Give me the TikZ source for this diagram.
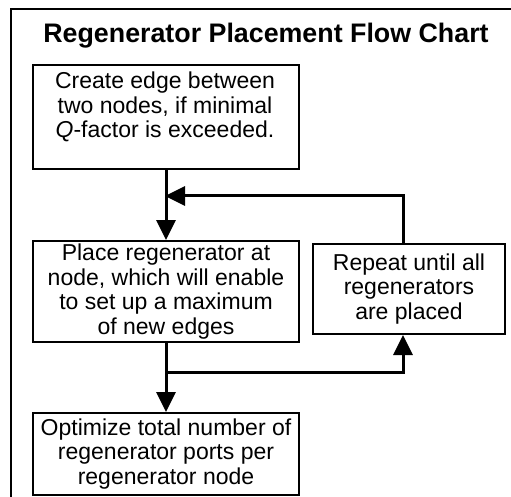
\documentclass[tikz,border=0pt]{standalone}
\usepackage{fontspec}
\setmainfont{Liberation Sans}
\usetikzlibrary{arrows.meta}
\begin{document}
\begin{tikzpicture}[x=1pt,y=-1pt,
  box/.style={draw=black,line width=2pt,rectangle,inner sep=0pt,anchor=north west},
  txt/.style={align=center,font=\fontsize{23}{24.5}\selectfont,inner sep=0pt},
  flow/.style={line width=3pt,-{Triangle[length=20pt,width=19pt]}},
  plain/.style={line width=3pt}]
\useasboundingbox (0,0) rectangle (511,497);
% frame
\draw[line width=2.5pt] (11,497) -- (11,9) -- (511,9);
% title
\node[font=\fontsize{26.8}{30}\selectfont\bfseries,anchor=base] (title) at (266,43) {Regenerator Placement Flow Chart};
% boxes
\node[box,minimum width=266pt,minimum height=104pt] (b1) at (32,64) {};
\node[txt] (t1) at (165,107) {Create edge between\\two nodes, if minimal\\\textit{Q}-factor is exceeded.};
\node[box,txt,minimum width=266pt,minimum height=101pt] (b2) at (32,240) {Place regenerator at\\node, which will enable\\to set up a maximum\\of new edges};
\node[box,txt,minimum width=192pt,minimum height=90pt] (b3) at (312,243) {Repeat until all\\regenerators\\are placed};
\node[box,txt,minimum width=266pt,minimum height=82pt] (b4) at (32,412) {Optimize total number of\\regenerator ports per\\regenerator node};
% connectors
\coordinate (j1) at (165,196);
\coordinate (j2) at (165,372);
\draw[flow] (b1.south) -- (b2.north);
\draw[flow] (b3.north -| 403,0) -- (403,196) -- (j1);
\draw[flow] (b2.south) -- (b4.north);
\draw[flow] (j2) -- (403,372) -- (b3.south -| 403,0);
\end{tikzpicture}
\end{document}
